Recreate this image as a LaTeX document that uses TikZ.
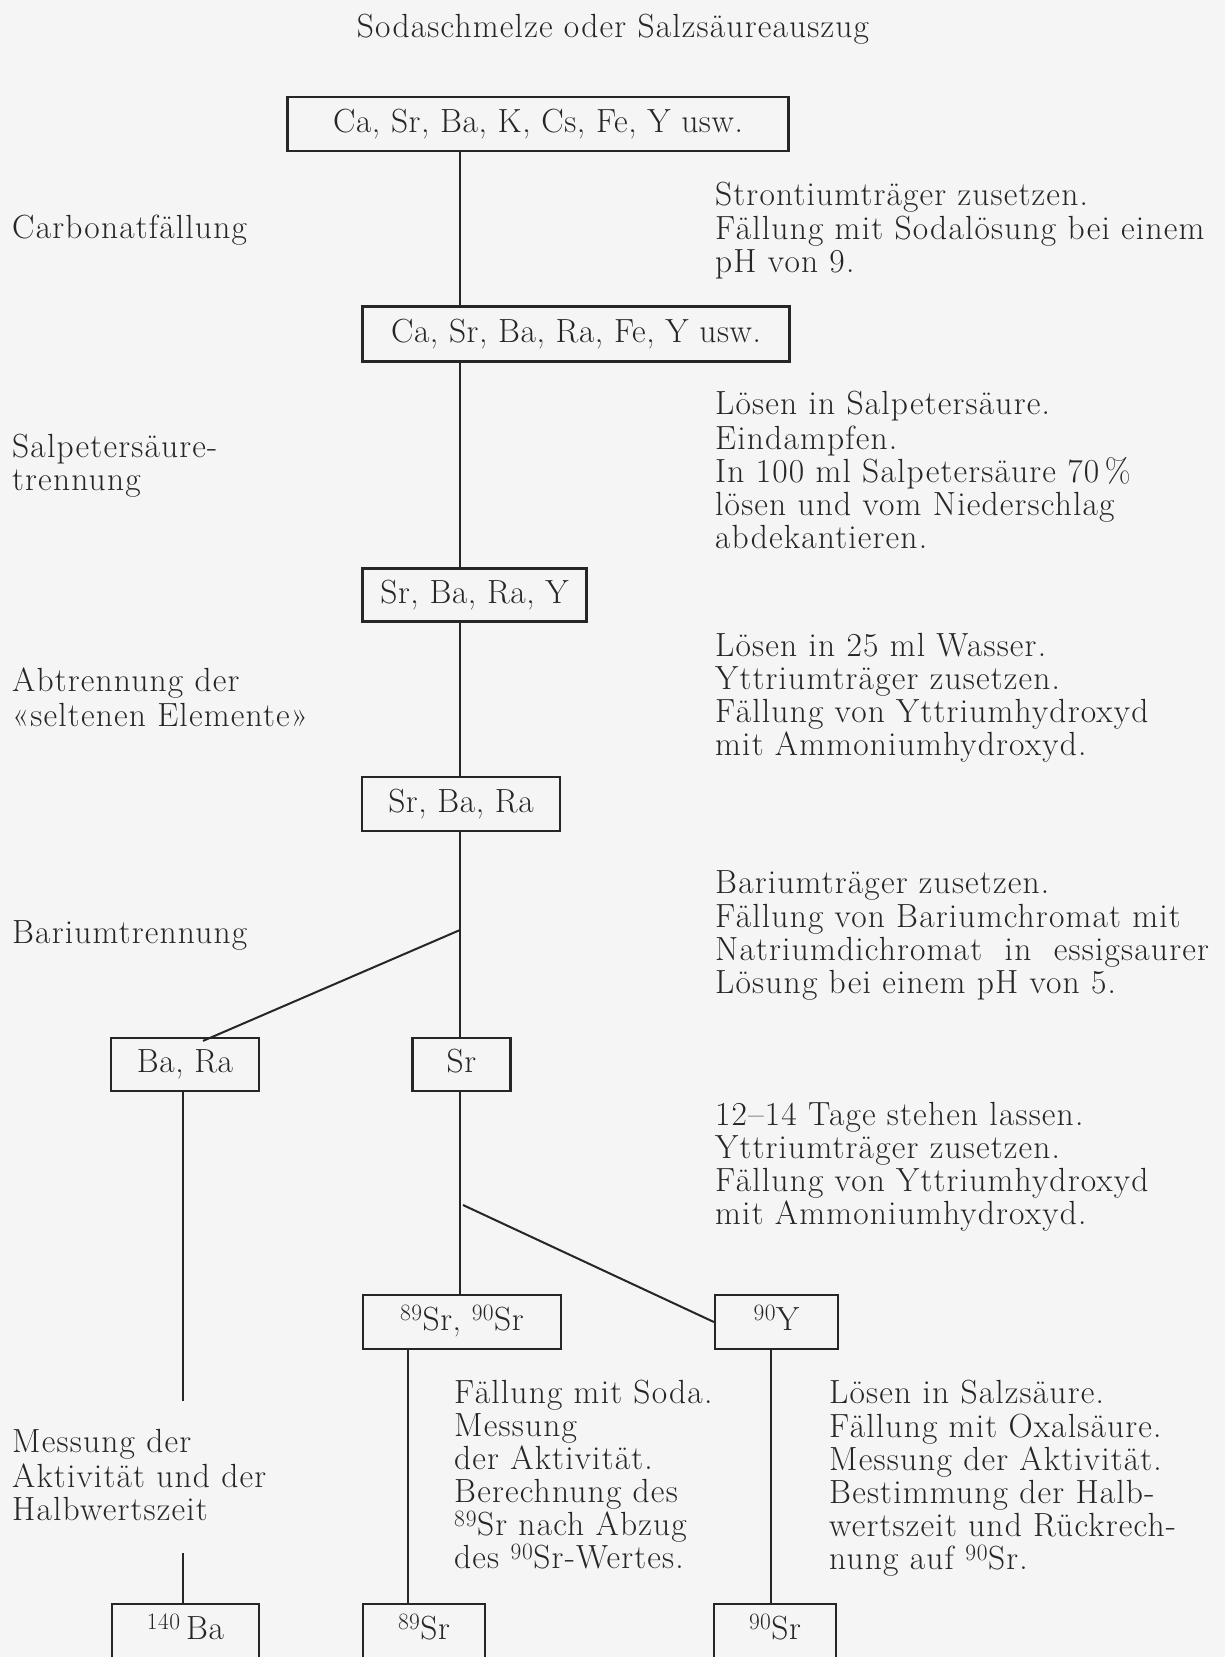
\documentclass[tikz,border=0pt]{standalone}
\usepackage{fontspec}
\setmainfont{Latin Modern Roman}
\newfontfamily\widefam{Latin Modern Roman}[LetterSpace=3.5]
\newfontfamily\boxfam{Latin Modern Roman}[LetterSpace=1.7]
\newcommand{\fsz}{\widefam\fontsize{33.5}{33}\selectfont}
\newcommand{\bsz}{\boxfam\fontsize{33.5}{33}\selectfont}
\newcommand{\sups}[1]{\textsuperscript{#1}}
\begin{document}
\begin{tikzpicture}[x=1pt,y=-1pt,
  every node/.style={text=black!85},
  boxn/.style={draw=black!85, line width=2.2, inner sep=0, text height=23, text depth=7, minimum height=54, font=\bsz},
  conn/.style={draw=black!85, line width=2},
  txt/.style={anchor=north west, inner sep=0, align=left, font=\fsz},
  lbl/.style={anchor=base west, inner sep=0, font=\fsz}]
\fill[black!4] (0,0) rectangle (1225,1657);
\useasboundingbox (0,0) rectangle (1225,1657);
\clip (0,0) rectangle (1225,1657);

% title
\node[anchor=base, inner sep=0, font=\fsz] (title) at (613,37) {Sodaschmelze oder Salzsäureauszug};

% boxes
\node[boxn, minimum width=501] (b1) at (538,124) {Ca, Sr, Ba, K, Cs, Fe, Y usw.};
\node[boxn, minimum width=427, minimum height=55] (b2) at (576,334) {Ca, Sr, Ba, Ra, Fe, Y usw.};
\node[boxn, minimum width=224, minimum height=53] (b3) at (474.5,595) {Sr, Ba, Ra, Y};
\node[boxn, minimum width=197.5] (b4) at (461,804) {Sr, Ba, Ra};
\node[boxn, minimum width=148, minimum height=53] (b5) at (185,1064.5) {Ba, Ra};
\node[boxn, minimum width=98, minimum height=53] (b6) at (461.5,1064.5) {Sr};
\node[boxn, minimum width=198] (b7) at (462,1322) {\sups{89}Sr,\ \sups{90}Sr};
\node[boxn, minimum width=123] (b8) at (776.5,1322) {\sups{90}Y};
\node[boxn, minimum width=147] (b9) at (185.5,1631) {\sups{140}\,Ba};
\node[boxn, minimum width=122] (b10) at (424,1631) {\sups{89}Sr};
\node[boxn, minimum width=122] (b11) at (775,1631) {\sups{90}Sr};

% connector coordinates
\coordinate (sp) at (460,0);
\coordinate (br1) at (460,930);
\coordinate (baL) at (203,0);
\coordinate (br2) at (463,1205);
\coordinate (baX) at (183,0);
\coordinate (gapTop) at (183,1401);
\coordinate (gapBot) at (183,1553);
\coordinate (srX) at (408,0);
\coordinate (yX) at (771,0);

\draw[conn] (b1.south -| sp) -- (b2.north -| sp);
\draw[conn] (b2.south -| sp) -- (b3.north -| sp);
\draw[conn] (b3.south -| sp) -- (b4.north -| sp);
\draw[conn] (b4.south -| sp) -- (b6.north -| sp);
\draw[conn] (br1) -- ([yshift=-4]b5.north -| baL);
\draw[conn] (b6.south -| sp) -- (b7.north -| sp);
\draw[conn] (br2) -- (b8.west);
\draw[conn] (b5.south -| baX) -- (gapTop);
\draw[conn] (gapBot) -- (b9.north -| baX);
\draw[conn] (b7.south -| srX) -- (b10.north -| srX);
\draw[conn] (b8.south -| yX) -- (b11.north -| yX);

% left labels
\node[lbl] (l1) at (12,238) {Carbonatfällung};
\node[txt] (l2) at (12,433.5) {\strut Salpetersäure-\\trennung};
\node[txt] (l3) at (12,668) {\strut Abtrennung der\\«seltenen Elemente»};
\node[lbl] (l4) at (12,943) {Bariumtrennung};
\node[txt] (l5) at (12,1429) {\strut Messung der\\Aktivität und der\\Halbwertszeit};

% right texts
\node[txt] (r1) at (715,182) {\strut Strontiumträger zusetzen.\\Fällung mit Sodalösung bei einem\\pH von 9.};
\node[txt] (r2) at (715,391) {\strut Lösen in Salpetersäure.\\Eindampfen.\\In 100 ml Salpetersäure 70\,\%\\lösen und vom Niederschlag\\abdekantieren.};
\node[txt] (r3) at (715,633) {\strut Lösen in 25 ml Wasser.\\Yttriumträger zusetzen.\\Fällung von Yttriumhydroxyd\\mit Ammoniumhydroxyd.};
\node[txt] (r4) at (715,870) {\strut Bariumträger zusetzen.\\Fällung von Bariumchromat mit\\Natriumdichromat\ \ in\ \ essigsaurer\\Lösung bei einem pH von 5.};
\node[txt] (r5) at (715,1102.5) {\strut 12–14 Tage stehen lassen.\\Yttriumträger zusetzen.\\Fällung von Yttriumhydroxyd\\mit Ammoniumhydroxyd.};
\node[txt] (r6) at (454,1380) {\strut Fällung mit Soda.\\Messung\\der Aktivität.\\Berechnung des\\\sups{89}Sr nach Abzug\\des \sups{90}Sr-Wertes.};
\node[txt] (r7) at (829,1380) {\strut Lösen in Salzsäure.\\Fällung mit Oxalsäure.\\Messung der Aktivität.\\Bestimmung der Halb-\\wertszeit und Rückrech-\\nung auf \sups{90}Sr.};
\end{tikzpicture}
\end{document}
